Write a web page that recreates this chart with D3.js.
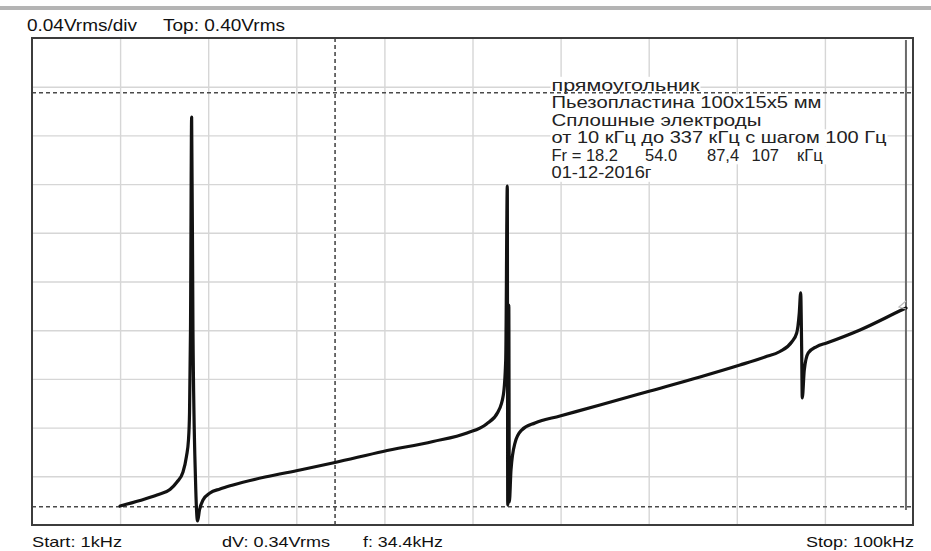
<!DOCTYPE html>
<html>
<head>
<meta charset="utf-8">
<script src="https://cdn.jsdelivr.net/npm/d3@7"></script>
<style>
  html, body { margin: 0; padding: 0; background: #fff; overflow: hidden; }
  svg { display: block; }
</style>
</head>
<body>
<svg id="chart" width="931" height="551"></svg>
<script>
// Swept-frequency response of a piezo plate, 0..100 kHz span, 0..0.40 Vrms
const freqKHz = [10.0, 12.26, 14.19, 15.66, 16.46, 17.14, 17.54, 17.76, 17.88, 17.99,
  18.12, 18.27, 18.56, 18.79, 19.01, 19.41, 20.20, 21.34, 22.82, 26.45,
  30.42, 34.39, 39.84, 45.52, 49.38, 51.59, 52.89, 53.50, 53.77, 53.95,
  54.00, 54.12, 54.18, 54.37, 54.82, 55.58, 57.09, 59.93, 64.47, 70.15,
  75.82, 80.36, 83.20, 84.90, 86.23, 86.80, 87.09, 87.25, 87.36, 87.43,
  87.66, 88.11, 89.07, 90.20, 93.98, 98.90, 99.20];
const vrms = [0.0156, 0.0201, 0.0246, 0.0292, 0.0353, 0.0435, 0.0567, 0.0698, 0.0920, 0.160,
  0.335, 0.160, 0.037, 0.0033, 0.0123, 0.0205, 0.0263, 0.0296, 0.0329, 0.0394,
  0.0452, 0.0513, 0.0604, 0.0686, 0.0756, 0.0830, 0.0928, 0.1068, 0.1355, 0.2784,
  0.0164, 0.1807, 0.0189, 0.0452, 0.0673, 0.0780, 0.0838, 0.0895, 0.0986, 0.1101,
  0.1216, 0.1314, 0.1380, 0.1425, 0.1503, 0.1577, 0.1741, 0.1906, 0.1462, 0.1043,
  0.1273, 0.1413, 0.1466, 0.1495, 0.1602, 0.1772, 0.1782];

// Grid divisions
const xTicks = d3.range(0, 101, 10);          // kHz
const yTicks = d3.range(0, 0.4001, 0.04);     // Vrms, 0.04 V/div

// Cursors
const cursorFreq = 34.4;     // kHz
const cursorLowV = 0.015;    // Vrms
const cursorDV = 0.34;       // Vrms
const markerFreq = 99.2;     // kHz

// Texts
const headerLabels = ["0.04Vrms/div", "Top: 0.40Vrms"];
const footerLabels = ["Start: 1kHz", "dV: 0.34Vrms", "f: 34.4kHz", "Stop: 100kHz"];
const noteLines = [
  "прямоугольник",
  "Пьезопластина 100x15x5 мм",
  "Сплошные электроды",
  "от 10 кГц до 337 кГц с шагом 100 Гц",
  null,
  "01-12-2016г"
];
const resonanceParts = ["Fr = 18.2", "54.0", "87,4", "107", "кГц"];

const svg = d3.select("#chart");
const L = 32, R = 913, T = 38, B = 525;

const x = d3.scaleLinear().domain([0, 100]).range([L, R]);
const y = d3.scaleLinear().domain([0, 0.4]).range([B, T]);

// window strip at the very top
svg.append("rect").attr("x", 0).attr("y", 6).attr("width", 931).attr("height", 4)
  .attr("fill", "#b4b4b4");

// grid through axes
const gx = svg.append("g").attr("transform", `translate(0,${B})`)
  .call(d3.axisBottom(x).tickValues(xTicks.slice(1, -1)).tickSize(-(B - T)).tickFormat(""));
const gy = svg.append("g").attr("transform", `translate(${L},0)`)
  .call(d3.axisLeft(y).tickValues(yTicks.slice(1, -1)).tickSize(-(R - L)).tickFormat(""));
[gx, gy].forEach(g => {
  g.select(".domain").remove();
  g.selectAll(".tick line").attr("stroke", "#d6d6d6").attr("stroke-width", 1.4);
});

// annotation block with opaque line backgrounds
const noteX = 551.5, noteBase = 90.8, noteStep = 17.5;
const noteWidths = [148, 270, 210, 335, 280, 100];
const noteFont = "Liberation Sans, Arial, sans-serif";
const noteG = svg.append("g");
noteLines.forEach((t, i) => {
  noteG.append("rect")
    .attr("x", noteX - 1).attr("y", noteBase + i * noteStep - 14)
    .attr("width", noteWidths[i] + 2).attr("height", noteStep)
    .attr("fill", "#fff");
});
noteLines.forEach((t, i) => {
  if (t === null) return;
  noteG.append("text")
    .attr("x", noteX).attr("y", noteBase + i * noteStep)
    .attr("textLength", noteWidths[i]).attr("lengthAdjust", "spacingAndGlyphs")
    .attr("font-family", noteFont)
    .attr("font-size", 16.5).attr("fill", "#222")
    .text(t);
});
// resonance list: each value placed in its own column
const partX = [551.5, 645, 707, 751.5, 797];
resonanceParts.forEach((t, i) => {
  noteG.append("text")
    .attr("x", partX[i]).attr("y", noteBase + 4 * noteStep)
    .attr("font-family", noteFont)
    .attr("font-size", 16.5).attr("fill", "#222")
    .text(t);
});

// dashed level cursors and frequency cursor
const dash = { stroke: "#4a4a4a", width: 1.6, pattern: "4,3" };
[cursorLowV, cursorLowV + cursorDV].forEach(v => {
  svg.append("line")
    .attr("x1", L).attr("x2", R).attr("y1", y(v)).attr("y2", y(v))
    .attr("stroke", dash.stroke).attr("stroke-width", dash.width)
    .attr("stroke-dasharray", dash.pattern);
});
svg.append("line")
  .attr("x1", x(cursorFreq)).attr("x2", x(cursorFreq)).attr("y1", T).attr("y2", B)
  .attr("stroke", dash.stroke).attr("stroke-width", dash.width)
  .attr("stroke-dasharray", dash.pattern);

// marker line near the right edge
svg.append("line")
  .attr("x1", x(markerFreq)).attr("x2", x(markerFreq)).attr("y1", T + 2).attr("y2", B - 15)
  .attr("stroke", "#6a6a6a").attr("stroke-width", 2);

// response trace
const pts = freqKHz.map((f, i) => [f, vrms[i]]);
svg.append("path")
  .datum(pts)
  .attr("d", d3.line().x(d => x(d[0])).y(d => y(d[1])).curve(d3.curveMonotoneX))
  .attr("fill", "none").attr("stroke", "#121212").attr("stroke-width", 3.2)
  .attr("stroke-linejoin", "round").attr("stroke-linecap", "round");

// small pointer at the trace end
const endPt = pts[pts.length - 1];
const ex = x(endPt[0]), ey = y(endPt[1]);
svg.append("path")
  .attr("d", `M${ex},${ey - 7} L${ex - 7},${ey - 1} L${ex},${ey + 1}`)
  .attr("fill", "none").attr("stroke", "#bbb").attr("stroke-width", 1.2);

// plot frame
svg.append("rect")
  .attr("x", L).attr("y", T).attr("width", R - L).attr("height", B - T)
  .attr("fill", "none").attr("stroke", "#3c3c3c").attr("stroke-width", 2);

// header and footer readouts
const hdrX = [27, 163], hdrW = [110, 122];
headerLabels.forEach((t, i) => {
  svg.append("text").attr("x", hdrX[i]).attr("y", 31)
    .attr("textLength", hdrW[i]).attr("lengthAdjust", "spacingAndGlyphs")
    .attr("font-family", "Liberation Sans, Arial, sans-serif")
    .attr("font-size", 16).attr("fill", "#111").text(t);
});
const ftrX = [32, 222, 363, 806], ftrW = [90, 108, 80, 108];
footerLabels.forEach((t, i) => {
  svg.append("text").attr("x", ftrX[i]).attr("y", 547)
    .attr("textLength", ftrW[i]).attr("lengthAdjust", "spacingAndGlyphs")
    .attr("font-family", "Liberation Sans, Arial, sans-serif")
    .attr("font-size", 15).attr("fill", "#111").text(t);
});
</script>
</body>
</html>
